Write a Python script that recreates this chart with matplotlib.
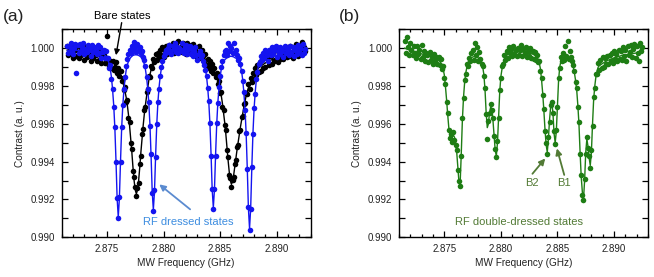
import numpy as np
import matplotlib
matplotlib.use('Agg')
import matplotlib.pyplot as plt
from matplotlib.ticker import MultipleLocator, FormatStrFormatter

plt.rcParams['font.family'] = ['Liberation Sans', 'DejaVu Sans']

# Sweep frequencies (MHz)
freq_mhz = [
    2871.5, 2871.6, 2871.7, 2871.8, 2871.9, 2872.0, 2872.1, 2872.2, 2872.3, 2872.4,
    2872.5, 2872.6, 2872.7, 2872.8, 2872.9, 2873.0, 2873.1, 2873.2, 2873.3, 2873.4,
    2873.5, 2873.6, 2873.7, 2873.8, 2873.9, 2874.0, 2874.1, 2874.2, 2874.3, 2874.4,
    2874.5, 2874.6, 2874.7, 2874.8, 2874.9, 2875.0, 2875.1, 2875.2, 2875.3, 2875.4,
    2875.5, 2875.6, 2875.7, 2875.8, 2875.9, 2876.0, 2876.1, 2876.2, 2876.3, 2876.4,
    2876.5, 2876.6, 2876.7, 2876.8, 2876.9, 2877.0, 2877.1, 2877.2, 2877.3, 2877.4,
    2877.5, 2877.6, 2877.7, 2877.8, 2877.9, 2878.0, 2878.1, 2878.2, 2878.3, 2878.4,
    2878.5, 2878.6, 2878.7, 2878.8, 2878.9, 2879.0, 2879.1, 2879.2, 2879.3, 2879.4,
    2879.5, 2879.6, 2879.7, 2879.8, 2879.9, 2880.0, 2880.1, 2880.2, 2880.3, 2880.4,
    2880.5, 2880.6, 2880.7, 2880.8, 2880.9, 2881.0, 2881.1, 2881.2, 2881.3, 2881.4,
    2881.5, 2881.6, 2881.7, 2881.8, 2881.9, 2882.0, 2882.1, 2882.2, 2882.3, 2882.4,
    2882.5, 2882.6, 2882.7, 2882.8, 2882.9, 2883.0, 2883.1, 2883.2, 2883.3, 2883.4,
    2883.5, 2883.6, 2883.7, 2883.8, 2883.9, 2884.0, 2884.1, 2884.2, 2884.3, 2884.4,
    2884.5, 2884.6, 2884.7, 2884.8, 2884.9, 2885.0, 2885.1, 2885.2, 2885.3, 2885.4,
    2885.5, 2885.6, 2885.7, 2885.8, 2885.9, 2886.0, 2886.1, 2886.2, 2886.3, 2886.4,
    2886.5, 2886.6, 2886.7, 2886.8, 2886.9, 2887.0, 2887.1, 2887.2, 2887.3, 2887.4,
    2887.5, 2887.6, 2887.7, 2887.8, 2887.9, 2888.0, 2888.1, 2888.2, 2888.3, 2888.4,
    2888.5, 2888.6, 2888.7, 2888.8, 2888.9, 2889.0, 2889.1, 2889.2, 2889.3, 2889.4,
    2889.5, 2889.6, 2889.7, 2889.8, 2889.9, 2890.0, 2890.1, 2890.2, 2890.3, 2890.4,
    2890.5, 2890.6, 2890.7, 2890.8, 2890.9, 2891.0, 2891.1, 2891.2, 2891.3, 2891.4,
    2891.5, 2891.6, 2891.7, 2891.8, 2891.9, 2892.0, 2892.1, 2892.2, 2892.3, 2892.4,
    2892.5]

# (a) bare states - measured contrast
bare_data = [
    1.00010, 0.99962, 0.99995, 1.00020, 0.99970, 0.99950, 1.00005, 0.99988, 0.99958, 1.00012,
    0.99950, 1.00008, 0.99965, 0.99990, 1.00015, 0.99940, 0.99978, 0.99955, 1.00002, 0.99962,
    0.99975, 0.99930, 0.99990, 0.99948, 0.99978, 0.99962, 0.99935, 0.99985, 0.99940, 0.99968,
    0.99920, 0.99958, 0.99965, 0.99922, 0.99950, 1.00065, 0.99945, 0.99905, 0.99935, 0.99895,
    0.99935, 0.99885, 0.99900, 0.99925, 0.99870, 0.99898, 0.99852, 0.99878, 0.99825, 0.99840,
    0.99780, 0.99795, 0.99718, 0.99725, 0.99630, 0.99610, 0.99500, 0.99468, 0.99352, 0.99318,
    0.99268, 0.99218, 0.99262, 0.99285, 0.99390, 0.99432, 0.99545, 0.99572, 0.99672, 0.99688,
    0.99770, 0.99785, 0.99852, 0.99848, 0.99905, 0.99898, 0.99945, 0.99925, 0.99968, 0.99940,
    0.99975, 0.99950, 0.99990, 0.99965, 1.00008, 0.99955, 0.99985, 1.00012, 0.99972, 0.99995,
    1.00018, 0.99980, 1.00005, 1.00030, 0.99975, 0.99998, 1.00022, 0.99985, 1.00040, 0.99990,
    1.00008, 0.99978, 1.00025, 0.99995, 1.00012, 0.99968, 1.00030, 1.00002, 0.99985, 1.00015,
    0.99990, 1.00020, 0.99970, 1.00005, 0.99985, 0.99955, 1.00010, 0.99975, 0.99948, 0.99990,
    0.99960, 0.99930, 0.99968, 0.99912, 0.99945, 0.99898, 0.99935, 0.99880, 0.99915, 0.99868,
    0.99895, 0.99850, 0.99870, 0.99812, 0.99825, 0.99765, 0.99770, 0.99690, 0.99675, 0.99595,
    0.99570, 0.99462, 0.99425, 0.99332, 0.99315, 0.99268, 0.99302, 0.99318, 0.99390, 0.99410,
    0.99480, 0.99490, 0.99560, 0.99570, 0.99638, 0.99640, 0.99705, 0.99710, 0.99765, 0.99760,
    0.99810, 0.99785, 0.99845, 0.99820, 0.99870, 0.99838, 0.99895, 0.99860, 0.99910, 0.99875,
    0.99925, 0.99880, 0.99940, 0.99895, 0.99955, 0.99902, 0.99948, 0.99965, 0.99910, 0.99958,
    0.99960, 0.99918, 0.99975, 0.99935, 0.99990, 0.99950, 0.99925, 0.99985, 0.99945, 0.99972,
    0.99990, 0.99945, 0.99978, 1.00005, 0.99952, 0.99985, 0.99960, 1.00010, 0.99975, 0.99948,
    1.00002, 0.99970, 1.00020, 0.99985, 0.99958, 1.00012, 0.99980, 1.00035, 0.99990, 1.00005,
    0.99985]

# (a) bare states - fit
bare_fit = [
    0.99989, 0.99989, 0.99988, 0.99987, 0.99986, 0.99985, 0.99984, 0.99983, 0.99982, 0.99980,
    0.99979, 0.99978, 0.99976, 0.99975, 0.99973, 0.99972, 0.99970, 0.99969, 0.99968, 0.99967,
    0.99966, 0.99965, 0.99964, 0.99963, 0.99962, 0.99961, 0.99960, 0.99958, 0.99956, 0.99954,
    0.99952, 0.99950, 0.99948, 0.99945, 0.99942, 0.99940, 0.99937, 0.99933, 0.99930, 0.99925,
    0.99922, 0.99920, 0.99910, 0.99900, 0.99890, 0.99880, 0.99870, 0.99860, 0.99840, 0.99820,
    0.99800, 0.99770, 0.99740, 0.99700, 0.99650, 0.99590, 0.99520, 0.99450, 0.99370, 0.99300,
    0.99250, 0.99230, 0.99250, 0.99300, 0.99370, 0.99450, 0.99520, 0.99590, 0.99650, 0.99700,
    0.99745, 0.99790, 0.99830, 0.99860, 0.99885, 0.99905, 0.99920, 0.99932, 0.99941, 0.99948,
    0.99954, 0.99958, 0.99962, 0.99965, 0.99967, 0.99969, 0.99970, 0.99971, 0.99972, 0.99972,
    0.99972, 0.99973, 0.99973, 0.99973, 0.99973, 0.99973, 0.99973, 0.99973, 0.99973, 0.99972,
    0.99972, 0.99972, 0.99971, 0.99971, 0.99970, 0.99970, 0.99969, 0.99968, 0.99967, 0.99966,
    0.99965, 0.99964, 0.99963, 0.99962, 0.99961, 0.99960, 0.99958, 0.99956, 0.99954, 0.99952,
    0.99950, 0.99946, 0.99941, 0.99935, 0.99928, 0.99920, 0.99912, 0.99903, 0.99893, 0.99882,
    0.99870, 0.99860, 0.99850, 0.99830, 0.99810, 0.99780, 0.99750, 0.99710, 0.99660, 0.99610,
    0.99550, 0.99480, 0.99410, 0.99350, 0.99300, 0.99280, 0.99295, 0.99330, 0.99375, 0.99420,
    0.99465, 0.99505, 0.99545, 0.99585, 0.99620, 0.99655, 0.99690, 0.99720, 0.99748, 0.99772,
    0.99792, 0.99810, 0.99826, 0.99840, 0.99852, 0.99863, 0.99872, 0.99880, 0.99888, 0.99895,
    0.99900, 0.99905, 0.99910, 0.99914, 0.99918, 0.99922, 0.99925, 0.99928, 0.99931, 0.99934,
    0.99937, 0.99940, 0.99942, 0.99945, 0.99947, 0.99950, 0.99952, 0.99954, 0.99956, 0.99958,
    0.99959, 0.99961, 0.99962, 0.99964, 0.99965, 0.99966, 0.99968, 0.99969, 0.99970, 0.99971,
    0.99972, 0.99973, 0.99974, 0.99975, 0.99976, 0.99977, 0.99977, 0.99978, 0.99979, 0.99979,
    0.99980]

# (a) RF dressed states - measured contrast
dressed_data = [
    1.00013, 0.99976, 1.00006, 1.00029, 0.99986, 0.99968, 1.00003, 1.00022, 0.99868, 1.00016,
    0.99977, 1.00022, 0.99986, 1.00007, 1.00030, 0.99970, 0.99997, 0.99981, 1.00016, 0.99991,
    0.99999, 0.99959, 1.00015, 0.99982, 1.00005, 0.99991, 0.99968, 1.00016, 0.99975, 1.00006,
    0.99950, 0.99979, 0.99989, 0.99950, 0.99987, 0.99947, 0.99950, 0.99895, 0.99909, 0.99835,
    0.99785, 0.99690, 0.99582, 0.99398, 0.99210, 0.99100, 0.99212, 0.99398, 0.99584, 0.99702,
    0.99782, 0.99850, 0.99905, 0.99945, 0.99968, 0.99990, 0.99975, 1.00012, 0.99994, 1.00035,
    1.00004, 0.99982, 1.00021, 0.99990, 1.00008, 0.99975, 0.99985, 0.99955, 0.99940, 0.99905,
    0.99850, 0.99782, 0.99715, 0.99590, 0.99438, 0.99235, 0.99140, 0.99250, 0.99425, 0.99600,
    0.99718, 0.99786, 0.99855, 0.99900, 0.99930, 0.99958, 0.99975, 0.99990, 0.99982, 1.00002,
    1.00016, 0.99987, 0.99968, 1.00012, 0.99997, 1.00025, 0.99979, 1.00005, 0.99974, 1.00002,
    0.99983, 1.00028, 0.99991, 0.99976, 1.00006, 1.00019, 0.99967, 0.99996, 1.00011, 0.99971,
    0.99995, 0.99958, 0.99987, 1.00008, 0.99963, 0.99940, 0.99972, 0.99985, 0.99952, 0.99962,
    0.99930, 0.99912, 0.99885, 0.99855, 0.99790, 0.99720, 0.99605, 0.99432, 0.99255, 0.99150,
    0.99258, 0.99430, 0.99605, 0.99708, 0.99795, 0.99852, 0.99900, 0.99935, 0.99962, 0.99985,
    0.99990, 0.99962, 1.00025, 0.99985, 1.00012, 1.00001, 0.99975, 1.00030, 0.99978, 0.99992,
    0.99962, 0.99940, 0.99948, 0.99915, 0.99882, 0.99828, 0.99770, 0.99672, 0.99552, 0.99360,
    0.99158, 0.99040, 0.99150, 0.99370, 0.99545, 0.99682, 0.99760, 0.99838, 0.99875, 0.99915,
    0.99925, 0.99960, 0.99938, 0.99975, 0.99948, 0.99990, 0.99962, 0.99935, 0.99992, 0.99968,
    0.99962, 1.00005, 0.99970, 0.99992, 1.00013, 0.99955, 0.99984, 0.99968, 1.00004, 0.99978,
    0.99993, 0.99952, 1.00010, 0.99977, 0.99999, 0.99988, 0.99964, 1.00012, 0.99973, 1.00006,
    0.99960, 0.99992, 1.00005, 0.99972, 1.00015, 0.99983, 0.99999, 0.99964, 1.00022, 0.99977,
    0.99995]

# (a) RF dressed states - fit
dressed_fit = [
    0.99988, 0.99988, 0.99988, 0.99988, 0.99988, 0.99988, 0.99988, 0.99988, 0.99988, 0.99988,
    0.99988, 0.99988, 0.99987, 0.99987, 0.99987, 0.99987, 0.99987, 0.99986, 0.99986, 0.99986,
    0.99986, 0.99985, 0.99985, 0.99984, 0.99984, 0.99983, 0.99982, 0.99981, 0.99980, 0.99979,
    0.99976, 0.99973, 0.99970, 0.99965, 0.99959, 0.99950, 0.99937, 0.99918, 0.99889, 0.99845,
    0.99780, 0.99697, 0.99577, 0.99404, 0.99206, 0.99107, 0.99206, 0.99404, 0.99577, 0.99697,
    0.99779, 0.99841, 0.99884, 0.99912, 0.99930, 0.99943, 0.99951, 0.99957, 0.99962, 0.99964,
    0.99965, 0.99966, 0.99964, 0.99962, 0.99958, 0.99954, 0.99946, 0.99934, 0.99916, 0.99888,
    0.99847, 0.99789, 0.99710, 0.99595, 0.99430, 0.99241, 0.99146, 0.99241, 0.99430, 0.99595,
    0.99711, 0.99790, 0.99848, 0.99890, 0.99918, 0.99937, 0.99949, 0.99958, 0.99963, 0.99968,
    0.99972, 0.99975, 0.99977, 0.99979, 0.99980, 0.99980, 0.99981, 0.99981, 0.99981, 0.99982,
    0.99982, 0.99982, 0.99982, 0.99982, 0.99982, 0.99982, 0.99981, 0.99981, 0.99980, 0.99980,
    0.99979, 0.99979, 0.99978, 0.99976, 0.99974, 0.99971, 0.99968, 0.99964, 0.99958, 0.99950,
    0.99938, 0.99920, 0.99893, 0.99851, 0.99793, 0.99715, 0.99601, 0.99439, 0.99252, 0.99158,
    0.99251, 0.99438, 0.99599, 0.99713, 0.99790, 0.99848, 0.99889, 0.99916, 0.99928, 0.99938,
    0.99944, 0.99949, 0.99953, 0.99955, 0.99957, 0.99957, 0.99956, 0.99954, 0.99950, 0.99947,
    0.99943, 0.99936, 0.99925, 0.99906, 0.99878, 0.99831, 0.99765, 0.99678, 0.99549, 0.99365,
    0.99153, 0.99047, 0.99153, 0.99365, 0.99549, 0.99678, 0.99766, 0.99832, 0.99879, 0.99910,
    0.99934, 0.99948, 0.99957, 0.99964, 0.99968, 0.99972, 0.99975, 0.99978, 0.99980, 0.99981,
    0.99982, 0.99982, 0.99983, 0.99983, 0.99984, 0.99984, 0.99985, 0.99985, 0.99986, 0.99986,
    0.99986, 0.99987, 0.99987, 0.99987, 0.99987, 0.99988, 0.99988, 0.99988, 0.99988, 0.99988,
    0.99988, 0.99988, 0.99989, 0.99989, 0.99989, 0.99989, 0.99989, 0.99989, 0.99989, 0.99989,
    0.99989]

# (b) RF double-dressed states - measured contrast
double_data = [
    1.00040, 0.99975, 1.00060, 1.00005, 0.99965, 1.00028, 0.99990, 0.99962, 1.00012, 0.99975,
    0.99950, 1.00010, 0.99968, 0.99990, 0.99945, 1.00015, 0.99955, 0.99985, 0.99930, 0.99975,
    0.99965, 0.99925, 0.99980, 0.99940, 0.99960, 0.99918, 0.99972, 0.99935, 0.99955, 0.99915,
    0.99955, 0.99912, 0.99945, 0.99890, 0.99905, 0.99845, 0.99810, 0.99718, 0.99660, 0.99570,
    0.99525, 0.99545, 0.99505, 0.99558, 0.99515, 0.99490, 0.99460, 0.99355, 0.99300, 0.99270,
    0.99430, 0.99630, 0.99735, 0.99830, 0.99865, 0.99915, 0.99905, 0.99950, 0.99930, 0.99975,
    0.99990, 0.99940, 1.00025, 0.99965, 1.00005, 0.99935, 0.99978, 0.99945, 0.99915, 0.99905,
    0.99855, 0.99790, 0.99650, 0.99520, 0.99615, 0.99655, 0.99705, 0.99672, 0.99630, 0.99535,
    0.99468, 0.99425, 0.99510, 0.99632, 0.99778, 0.99845, 0.99905, 0.99915, 0.99962, 0.99940,
    0.99985, 0.99950, 1.00005, 0.99975, 0.99995, 0.99958, 1.00010, 0.99970, 0.99990, 0.99960,
    1.00002, 0.99965, 0.99990, 1.00015, 0.99960, 0.99995, 0.99975, 1.00008, 0.99955, 0.99985,
    0.99960, 1.00000, 0.99950, 0.99985, 0.99945, 0.99978, 0.99940, 0.99965, 0.99925, 0.99930,
    0.99880, 0.99840, 0.99752, 0.99678, 0.99560, 0.99500, 0.99440, 0.99530, 0.99612, 0.99700,
    0.99718, 0.99655, 0.99560, 0.99495, 0.99570, 0.99690, 0.99840, 0.99895, 0.99955, 0.99930,
    0.99975, 0.99940, 1.00010, 0.99960, 1.00038, 0.99945, 0.99985, 0.99955, 0.99935, 0.99910,
    0.99880, 0.99820, 0.99790, 0.99690, 0.99610, 0.99440, 0.99330, 0.99225, 0.99195, 0.99310,
    0.99440, 0.99530, 0.99470, 0.99430, 0.99365, 0.99462, 0.99590, 0.99740, 0.99790, 0.99862,
    0.99865, 0.99920, 0.99885, 0.99940, 0.99895, 0.99955, 0.99900, 0.99948, 0.99915, 0.99960,
    0.99918, 0.99965, 0.99930, 0.99975, 0.99920, 0.99985, 0.99945, 0.99968, 0.99930, 0.99990,
    0.99945, 0.99985, 0.99940, 1.00005, 0.99958, 0.99990, 0.99935, 1.00012, 0.99965, 0.99980,
    1.00015, 0.99955, 0.99995, 1.00020, 0.99950, 1.00010, 0.99975, 0.99930, 1.00025, 0.99985,
    1.00005]

# (b) RF double-dressed states - fit
double_fit = [
    1.00000, 0.99998, 0.99996, 0.99994, 0.99992, 0.99990, 0.99988, 0.99986, 0.99984, 0.99982,
    0.99980, 0.99978, 0.99976, 0.99974, 0.99972, 0.99970, 0.99968, 0.99966, 0.99964, 0.99962,
    0.99960, 0.99958, 0.99956, 0.99954, 0.99952, 0.99950, 0.99948, 0.99946, 0.99943, 0.99940,
    0.99935, 0.99930, 0.99922, 0.99910, 0.99890, 0.99860, 0.99800, 0.99730, 0.99650, 0.99580,
    0.99540, 0.99520, 0.99530, 0.99540, 0.99530, 0.99500, 0.99450, 0.99370, 0.99290, 0.99280,
    0.99440, 0.99620, 0.99740, 0.99820, 0.99870, 0.99900, 0.99920, 0.99935, 0.99943, 0.99950,
    0.99953, 0.99955, 0.99955, 0.99954, 0.99952, 0.99948, 0.99942, 0.99932, 0.99920, 0.99900,
    0.99860, 0.99780, 0.99660, 0.99580, 0.99600, 0.99660, 0.99690, 0.99680, 0.99620, 0.99540,
    0.99460, 0.99430, 0.99500, 0.99640, 0.99770, 0.99850, 0.99890, 0.99920, 0.99940, 0.99950,
    0.99960, 0.99968, 0.99973, 0.99976, 0.99978, 0.99980, 0.99980, 0.99981, 0.99981, 0.99981,
    0.99981, 0.99981, 0.99981, 0.99980, 0.99980, 0.99980, 0.99979, 0.99978, 0.99977, 0.99976,
    0.99975, 0.99973, 0.99971, 0.99969, 0.99966, 0.99962, 0.99957, 0.99950, 0.99940, 0.99920,
    0.99890, 0.99830, 0.99760, 0.99670, 0.99570, 0.99490, 0.99450, 0.99520, 0.99620, 0.99690,
    0.99710, 0.99660, 0.99550, 0.99500, 0.99560, 0.99700, 0.99830, 0.99900, 0.99930, 0.99942,
    0.99947, 0.99950, 0.99950, 0.99948, 0.99945, 0.99940, 0.99935, 0.99930, 0.99920, 0.99900,
    0.99870, 0.99830, 0.99780, 0.99700, 0.99600, 0.99450, 0.99320, 0.99240, 0.99200, 0.99300,
    0.99450, 0.99520, 0.99480, 0.99420, 0.99380, 0.99450, 0.99600, 0.99730, 0.99800, 0.99850,
    0.99880, 0.99900, 0.99908, 0.99912, 0.99916, 0.99920, 0.99924, 0.99928, 0.99931, 0.99934,
    0.99937, 0.99940, 0.99942, 0.99944, 0.99946, 0.99948, 0.99950, 0.99952, 0.99954, 0.99956,
    0.99958, 0.99960, 0.99962, 0.99963, 0.99964, 0.99965, 0.99966, 0.99967, 0.99968, 0.99969,
    0.99970, 0.99971, 0.99972, 0.99973, 0.99974, 0.99975, 0.99976, 0.99977, 0.99978, 0.99979,
    0.99980]

freq = np.array(freq_mhz) / 1000.0

BLACK = '#000000'
BLUE = '#1414f0'
GREEN = '#1e7d14'
LIGHTBLUE = '#3d8de0'
ARROWBLUE = '#5b8bd0'
OLIVE = '#527a35'
TXT = '#222222'

fig = plt.figure(figsize=(6.54, 2.77), dpi=100)
ax1 = fig.add_axes([0.0943, 0.1433, 0.3807, 0.7509])
ax2 = fig.add_axes([0.6101, 0.1433, 0.3807, 0.7509])


def style(ax):
    ax.set_xlim(2.871, 2.893)
    ax.set_ylim(0.990, 1.001)
    ax.xaxis.set_major_locator(MultipleLocator(0.005))
    ax.xaxis.set_minor_locator(MultipleLocator(0.001))
    ax.yaxis.set_major_locator(MultipleLocator(0.002))
    ax.yaxis.set_minor_locator(MultipleLocator(0.001))
    ax.xaxis.set_major_formatter(FormatStrFormatter('%.3f'))
    ax.yaxis.set_major_formatter(FormatStrFormatter('%.3f'))
    ax.tick_params(which='both', direction='in', top=True, right=True,
                   labelsize=7, pad=5, width=0.9, labelcolor=TXT)
    ax.tick_params(which='major', length=4)
    ax.tick_params(axis='x', which='minor', length=2.2)
    ax.tick_params(axis='y', which='minor', length=4)
    for s in ax.spines.values():
        s.set_linewidth(1.0)
    ax.set_xlabel('MW Frequency (GHz)', fontsize=7.2, labelpad=3, color=TXT)
    ax.set_ylabel('Contrast (a. u.)', fontsize=7.2, labelpad=4, color=TXT)


style(ax1)
style(ax2)

ms = 4.0
# Panel (a)
ax1.plot(freq, bare_data, 'o', color=BLACK, ms=ms, mec='none', zorder=2)
ax1.plot(freq, bare_fit, '-', color=BLACK, lw=1.0, zorder=3)
ax1.plot(freq, dressed_data, 'o', color=BLUE, ms=ms, mec='none', zorder=4)
ax1.plot(freq, dressed_fit, '-', color=BLUE, lw=1.0, zorder=5)

ax1.annotate('', xy=(2.87580, 0.99963), xytext=(2.87630, 1.00135),
             arrowprops=dict(arrowstyle='-|>', color=BLACK, lw=1.0,
                             mutation_scale=8, shrinkA=0, shrinkB=0),
             annotation_clip=False, zorder=6)
ax1.text(2.87637, 1.00171, 'Bare states', fontsize=8, color=BLACK,
         ha='center', va='center', clip_on=False)

ax1.annotate('', xy=(2.87962, 0.99280), xytext=(2.88235, 0.99148),
             arrowprops=dict(arrowstyle='-|>', color=ARROWBLUE, lw=1.3,
                             mutation_scale=9, shrinkA=0, shrinkB=0),
             zorder=6)
ax1.text(2.88218, 0.99082, 'RF dressed states', fontsize=8, color=LIGHTBLUE,
         ha='center', va='center')

# Panel (b)
ax2.plot(freq, double_data, 'o', color=GREEN, ms=ms, mec='none', zorder=2)
ax2.plot(freq, double_fit, '-', color=GREEN, lw=1.0, zorder=3)

ax2.annotate('', xy=(2.88392, 0.99417), xytext=(2.88279, 0.99336),
             arrowprops=dict(arrowstyle='-|>', color=OLIVE, lw=1.3,
                             mutation_scale=9, shrinkA=0, shrinkB=0), zorder=6)
ax2.annotate('', xy=(2.88495, 0.99470), xytext=(2.88560, 0.99330),
             arrowprops=dict(arrowstyle='-|>', color=OLIVE, lw=1.3,
                             mutation_scale=9, shrinkA=0, shrinkB=0), zorder=6)
ax2.text(2.88275, 0.99288, 'B2', fontsize=8, color=OLIVE, ha='center', va='center')
ax2.text(2.88555, 0.99288, 'B1', fontsize=8, color=OLIVE, ha='center', va='center')
ax2.text(2.88157, 0.99082, 'RF double-dressed states', fontsize=8, color=OLIVE,
         ha='center', va='center')

fig.text(0.021, 0.942, '(a)', fontsize=12.5, ha='center', va='center', color=TXT)
fig.text(0.535, 0.942, '(b)', fontsize=12.5, ha='center', va='center', color=TXT)

fig.savefig('out.png', dpi=100)
